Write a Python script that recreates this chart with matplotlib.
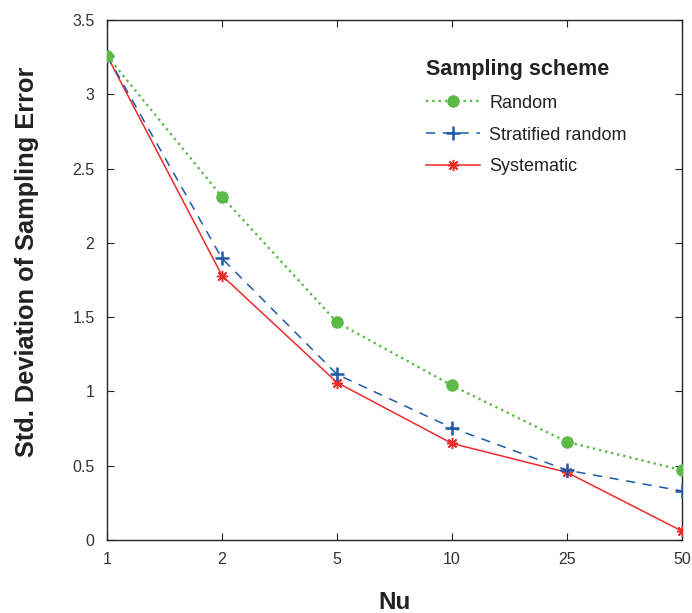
import matplotlib
matplotlib.use("Agg")
import matplotlib.pyplot as plt

nu_labels = ["1", "2", "5", "10", "25", "50"]
random_vals = [3.26, 2.31, 1.465, 1.04, 0.66, 0.47]
stratified_vals = [3.26, 1.895, 1.115, 0.755, 0.47, 0.33]
systematic_vals = [3.26, 1.78, 1.06, 0.65, 0.455, 0.06]

plt.rcParams['font.family'] = ['Liberation Sans', 'DejaVu Sans']

fig = plt.figure(figsize=(6.92, 6.13), dpi=100)
ax = fig.add_axes([107/692, 73/613, 575/692, 520/613])

x = list(range(len(nu_labels)))
green = '#5cba47'
blue = '#1f5aa8'
red = '#ee2b2b'

ax.plot(x, random_vals, linestyle=':', color=green, lw=1.7, marker='o',
        markersize=8, markerfacecolor=green, markeredgecolor=green, label='Random', zorder=5)
ax.plot(x, stratified_vals, linestyle=(0, (6, 5)), color=blue, lw=1.1, marker='+',
        markersize=10, markeredgewidth=1.8, label='Stratified random', zorder=4)
ax.plot(x, systematic_vals, linestyle='-', color=red, lw=1.1, marker=(8, 2, 0),
        markersize=8, markeredgewidth=1.1, label='Systematic', zorder=3)

ax.set_xlim(0, len(nu_labels) - 1)
ax.set_ylim(0, 3.5)
ax.set_xticks(x)
ax.set_xticklabels(nu_labels)
ax.set_yticks([0, 0.5, 1, 1.5, 2, 2.5, 3, 3.5])
ax.set_yticklabels(["0", "0.5", "1", "1.5", "2", "2.5", "3", "3.5"])
ax.tick_params(direction='in', top=True, right=True, length=5, width=0.8,
               labelsize=11.5, labelcolor='#333333', color='#222222', pad=9)
for s in ax.spines.values():
    s.set_linewidth(1.0)
    s.set_color('#222222')

ax.set_xlabel('Nu', fontsize=17.5, fontweight='bold', color='#222222', labelpad=17)
ax.set_ylabel('Std. Deviation of Sampling Error', fontsize=18.3, fontweight='bold',
              color='#222222')
ax.yaxis.set_label_coords(-0.118, 0.535)

leg = ax.legend(loc='upper left', bbox_to_anchor=(0.555, 0.925), frameon=False,
                title='Sampling scheme', fontsize=13, title_fontsize=15.5,
                handlelength=3.0, handletextpad=0.5, labelspacing=0.82, borderaxespad=0,
                borderpad=0)
leg.get_title().set_fontweight('bold')
leg.get_title().set_color('#222222')
leg._legend_box.align = 'left'
for t in leg.get_texts():
    t.set_color('#222222')

fig.savefig('out.png', dpi=100)
